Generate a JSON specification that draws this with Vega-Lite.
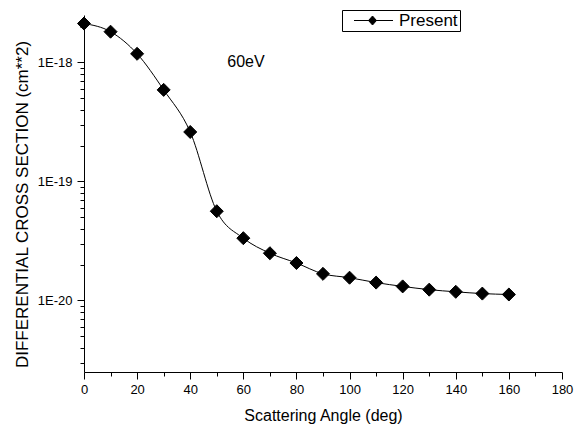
{
  "$schema": "https://vega.github.io/schema/vega-lite/v6.json",
  "width": 478,
  "height": 357,
  "autosize": {"type": "none"},
  "padding": {"left": 84, "top": 15, "right": 12, "bottom": 54},
  "background": "white",
  "config": {
    "view": {"stroke": null},
    "font": "Liberation Sans",
    "axis": {
      "grid": false,
      "domainColor": "black",
      "domainWidth": 1,
      "tickColor": "black",
      "tickWidth": 1,
      "labelColor": "black",
      "titleColor": "black",
      "titleFontWeight": "normal",
      "labelFont": "Liberation Sans",
      "titleFont": "Liberation Sans",
      "labelOverlap": false,
      "labelFlush": false
    }
  },
  "data": {
    "values": [
      {"angle": 0, "dcs": 2.12e-18, "series": "Present"},
      {"angle": 10, "dcs": 1.81e-18, "series": "Present"},
      {"angle": 20, "dcs": 1.18e-18, "series": "Present"},
      {"angle": 30, "dcs": 5.87e-19, "series": "Present"},
      {"angle": 40, "dcs": 2.6e-19, "series": "Present"},
      {"angle": 50, "dcs": 5.61e-20, "series": "Present"},
      {"angle": 60, "dcs": 3.33e-20, "series": "Present"},
      {"angle": 70, "dcs": 2.49e-20, "series": "Present"},
      {"angle": 80, "dcs": 2.06e-20, "series": "Present"},
      {"angle": 90, "dcs": 1.67e-20, "series": "Present"},
      {"angle": 100, "dcs": 1.55e-20, "series": "Present"},
      {"angle": 110, "dcs": 1.41e-20, "series": "Present"},
      {"angle": 120, "dcs": 1.31e-20, "series": "Present"},
      {"angle": 130, "dcs": 1.23e-20, "series": "Present"},
      {"angle": 140, "dcs": 1.18e-20, "series": "Present"},
      {"angle": 150, "dcs": 1.14e-20, "series": "Present"},
      {"angle": 160, "dcs": 1.12e-20, "series": "Present"}
    ]
  },
  "encoding": {
    "x": {
      "field": "angle",
      "type": "quantitative",
      "scale": {"domain": [0, 180], "nice": false, "zero": false},
      "axis": {
        "title": "Scattering Angle (deg)",
        "values": [0, 10, 20, 30, 40, 50, 60, 70, 80, 90, 100, 110, 120, 130, 140, 150, 160, 170, 180],
        "labelExpr": "datum.value % 20 == 0 ? datum.label : ''",
        "tickSize": {"condition": {"test": "datum.value % 20 == 0", "value": 7}, "value": 4},
        "labelFontSize": 13,
        "labelPadding": 4,
        "titleFontSize": 16,
        "titleY": 48,
        "titleBaseline": "alphabetic"
      }
    },
    "y": {
      "field": "dcs",
      "type": "quantitative",
      "scale": {"type": "log", "domain": [2.5e-21, 2.5e-18], "nice": false},
      "axis": {
        "title": "DIFFERENTIAL CROSS SECTION (cm**2)",
        "values": [3e-21, 4e-21, 5e-21, 6e-21, 7e-21, 8e-21, 9e-21, 1e-20, 2e-20, 3e-20, 4e-20, 5e-20, 6e-20, 7e-20, 8e-20, 9e-20, 1e-19, 2e-19, 3e-19, 4e-19, 5e-19, 6e-19, 7e-19, 8e-19, 9e-19, 1e-18, 2e-18],
        "labelExpr": "abs(log(datum.value)/LN10 - round(log(datum.value)/LN10)) < 0.001 ? '1E' + round(log(datum.value)/LN10) : ''",
        "tickSize": {"condition": {"test": "abs(log(datum.value)/LN10 - round(log(datum.value)/LN10)) < 0.001", "value": 7}, "value": 4},
        "labelFontSize": 13,
        "labelPadding": 5,
        "titleFontSize": 17,
        "titleX": -57,
        "titleY": 189,
        "titleBaseline": "alphabetic"
      }
    }
  },
  "layer": [
    {
      "mark": {"type": "line", "interpolate": "monotone", "color": "black", "strokeWidth": 1}
    },
    {
      "mark": {"type": "point", "shape": "diamond", "filled": true, "size": 170, "opacity": 1, "stroke": "black", "strokeWidth": 1},
      "encoding": {
        "color": {
          "field": "series",
          "type": "nominal",
          "scale": {"range": ["black"]},
          "legend": {
            "title": null,
            "orient": "none",
            "legendX": 258,
            "legendY": -5,
            "strokeColor": "black",
            "padding": 2,
            "symbolType": "M0.2,0H5.4M2.13,0L2.67,-0.6L3.2,0L2.67,0.6Z",
            "symbolSize": 225,
            "symbolFillColor": "black",
            "symbolStrokeColor": "black",
            "symbolStrokeWidth": 1,
            "symbolOpacity": 1,
            "labelOffset": 38,
            "labelFontSize": 17,
            "labelFont": "Liberation Sans",
            "labelColor": "black"
          }
        }
      }
    },
    {
      "data": {"values": [{"angle": 61, "dcs": 1e-18, "label": "60eV"}]},
      "mark": {"type": "text", "fontSize": 16, "align": "center", "baseline": "middle", "color": "black", "font": "Liberation Sans"},
      "encoding": {"text": {"field": "label"}}
    }
  ]
}
